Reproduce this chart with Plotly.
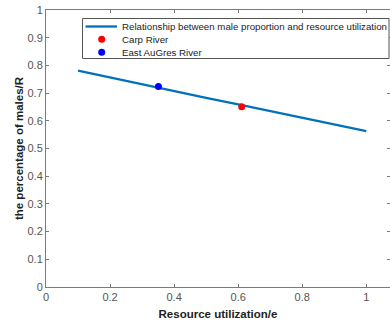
import plotly.graph_objects as go

# Data
line_x = [0.1, 0.2, 0.3, 0.4, 0.5, 0.6, 0.7, 0.8, 0.9, 1.0]
line_y = [0.781, 0.756, 0.732, 0.708, 0.683, 0.659, 0.635, 0.611, 0.587, 0.563]
carp_x = [0.611]
carp_y = [0.651]
east_x = [0.351]
east_y = [0.724]
x_ticks = [0, 0.2, 0.4, 0.6, 0.8, 1]
x_labels = ["0", "0.2", "0.4", "0.6", "0.8", "1"]
y_ticks = [0, 0.1, 0.2, 0.3, 0.4, 0.5, 0.6, 0.7, 0.8, 0.9, 1]
y_labels = ["0", "0.1", "0.2", "0.3", "0.4", "0.5", "0.6", "0.7", "0.8", "0.9", "1"]
legend_names = ["Relationship between male proportion and resource utilization",
                "Carp River", "East AuGres River"]

LINE_COLOR = "#0072BD"
CARP_COLOR = "#FF0000"
EAST_COLOR = "#0000FF"

W, H = 390, 323
ML, MR, MT, MB = 46, 0, 10, 36
PW, PH = W - ML - MR, H - MT - MB

def px(x):
    return (x - ML) / PW

def py(y):
    return (H - MB - y) / PH

fig = go.Figure()
fig.add_trace(go.Scatter(x=line_x, y=line_y, mode="lines",
                         line=dict(color=LINE_COLOR, width=2.3),
                         name=legend_names[0]))
fig.add_trace(go.Scatter(x=carp_x, y=carp_y, mode="markers",
                         marker=dict(color=CARP_COLOR, size=7),
                         name=legend_names[1]))
fig.add_trace(go.Scatter(x=east_x, y=east_y, mode="markers",
                         marker=dict(color=EAST_COLOR, size=7),
                         name=legend_names[2]))

axis_common = dict(showgrid=False, zeroline=False, showline=True, linecolor="#7a7a7a",
                   linewidth=1, mirror="ticks", ticks="inside", ticklen=3,
                   tickcolor="#7a7a7a",
                   tickfont=dict(family="Liberation Sans, Arial", size=11, color="#555555"))

# Manual legend (box, samples, labels) in paper coordinates
shapes = [
    dict(type="rect", xref="paper", yref="paper", x0=px(82.5), x1=px(389), y0=py(58.5), y1=py(18.5),
         line=dict(color="#555555", width=1), fillcolor="white", layer="above"),
    dict(type="line", xref="paper", yref="paper", x0=px(85.5), x1=px(117), y0=py(26.5), y1=py(26.5),
         line=dict(color=LINE_COLOR, width=2.3), layer="above"),
    dict(type="circle", xref="paper", yref="paper", x0=px(98.2), x1=px(105.2), y0=py(42.8), y1=py(35.8),
         line=dict(color=CARP_COLOR, width=0), fillcolor=CARP_COLOR, layer="above"),
    dict(type="circle", xref="paper", yref="paper", x0=px(98.2), x1=px(105.2), y0=py(55.8), y1=py(48.8),
         line=dict(color=EAST_COLOR, width=0), fillcolor=EAST_COLOR, layer="above"),
]
annotations = []
for name, yc in zip(legend_names, [26.5, 39.5, 52.5]):
    annotations.append(dict(text=name, xref="paper", yref="paper", x=px(119.5), y=py(yc),
                            xanchor="left", yanchor="middle", showarrow=False,
                            font=dict(family="Liberation Sans, Arial", size=9.7, color="#222222")))

fig.update_layout(
    width=W, height=H,
    margin=dict(l=ML, r=MR, t=MT, b=MB, autoexpand=False),
    paper_bgcolor="white", plot_bgcolor="white",
    font=dict(family="Liberation Sans, Arial", size=10, color="#222222"),
    xaxis=dict(range=[0, 1.074], tickvals=x_ticks, ticktext=x_labels,
               title=dict(text="<b>Resource utilization/e</b>",
                          font=dict(size=11.5, color="#222222"), standoff=7),
               **axis_common),
    yaxis=dict(range=[0, 1], tickvals=y_ticks, ticktext=y_labels,
               title=dict(text="<b>the percentage of males/R</b>",
                          font=dict(size=11.5, color="#222222"), standoff=1),
               **axis_common),
    shapes=shapes,
    annotations=annotations,
    showlegend=False,
)

fig.write_html("out.html", config={"displayModeBar": False},
               post_script="document.body.style.margin='0';document.body.style.padding='0';"
                           "document.documentElement.style.overflow='hidden';")
